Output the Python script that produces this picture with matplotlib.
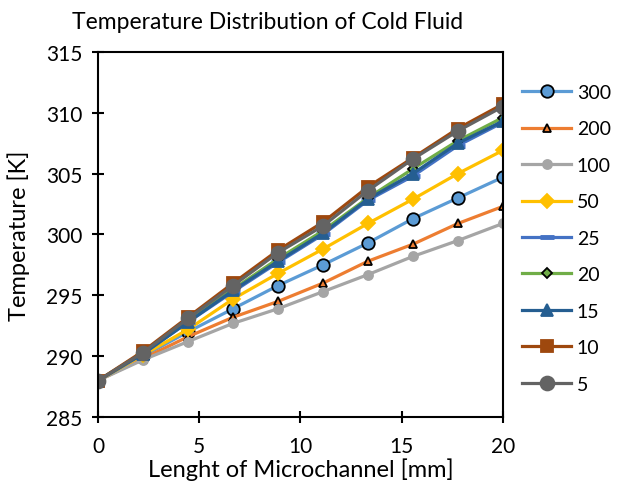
import matplotlib
matplotlib.use("Agg")
import matplotlib.pyplot as plt
import numpy as np

plt.rcParams['font.family'] = ['Lato', 'DejaVu Sans']

# lengths along the channel [mm]
x = [0, 2.22, 4.44, 6.67, 8.89, 11.11, 13.33, 15.56, 17.78, 20]

t300 = [288, 290.0, 292.0, 293.9, 295.8, 297.5, 299.3, 301.3, 303.0, 304.7]
t200 = [288, 289.8, 291.6, 293.2, 294.5, 296.0, 297.8, 299.2, 300.9, 302.3]
t100 = [288, 289.7, 291.2, 292.7, 293.9, 295.3, 296.7, 298.2, 299.5, 300.9]
t50 = [288, 290.1, 292.2, 294.7, 296.8, 298.8, 300.9, 302.9, 305.0, 306.9]
t25 = [288, 290.2, 292.8, 295.3, 297.7, 300.0, 302.8, 304.8, 307.3, 309.2]
t20 = [288, 290.3, 292.9, 295.5, 298.0, 300.3, 303.0, 305.4, 307.7, 309.6]
t15 = [288, 290.2, 292.8, 295.4, 297.8, 300.1, 302.9, 305.0, 307.5, 309.3]
t10 = [288, 290.4, 293.2, 296.0, 298.7, 301.0, 303.9, 306.3, 308.7, 310.7]
t5 = [288, 290.3, 293.1, 295.8, 298.5, 300.7, 303.6, 306.2, 308.5, 310.5]

labels = ['300', '200', '100', '50', '25', '20', '15', '10', '5']
series = [t300, t200, t100, t50, t25, t20, t15, t10, t5]

# line color, marker, marker face, marker edge, marker size
styles = [
    ('#5B9BD5', 'o', '#5B9BD5', 'black', 9),
    ('#ED7D31', '^', '#ED7D31', 'black', 6),
    ('#A5A5A5', 'o', '#A5A5A5', '#A5A5A5', 6.5),
    ('#FFC000', 'D', '#FFC000', '#FFC000', 7),
    ('#4472C4', '_', '#4472C4', '#4472C4', 10),
    ('#70AD47', 'D', '#70AD47', 'black', 5.5),
    ('#255E91', '^', '#255E91', '#255E91', 9),
    ('#9E480E', 's', '#9E480E', '#9E480E', 9),
    ('#636363', 'o', '#636363', '#636363', 10),
]

fig = plt.figure(figsize=(6.17, 4.89), dpi=100)
ax = fig.add_axes([0.159, 0.145, 0.656, 0.747])

for y, lab, (c, m, fc, ec, ms) in zip(series, labels, styles):
    mew = 3.5 if m == '_' else 1.3
    ax.plot(x, y, color=c, lw=2.3, marker=m, markerfacecolor=fc,
            markeredgecolor=ec, markersize=ms, markeredgewidth=mew, label=lab)

ax.set_xlim(0, 20)
ax.set_ylim(285, 315)
ax.set_xticks([0, 5, 10, 15, 20])
ax.set_yticks(np.arange(285, 316, 5))
ax.tick_params(direction='inout', length=9, width=1.5, labelsize=15, colors='black')
ax.tick_params(axis='x', pad=9)
ax.tick_params(axis='y', pad=7)
for s in ax.spines.values():
    s.set_linewidth(1.5)
    s.set_color('black')

fig.text(0.434, 0.955, 'Temperature Distribution of Cold Fluid', fontsize=16.5,
         ha='center', va='center')
ax.set_xlabel('Lenght of Microchannel [mm]', fontsize=17, labelpad=1)
ax.set_ylabel('Temperature [K]', fontsize=17, labelpad=11)

fig.legend(loc='upper left', bbox_to_anchor=(0.818, 0.862), frameon=False,
           fontsize=14, labelspacing=1.0, handlelength=2.5, handletextpad=0.3)

fig.savefig('out.png', dpi=100)
